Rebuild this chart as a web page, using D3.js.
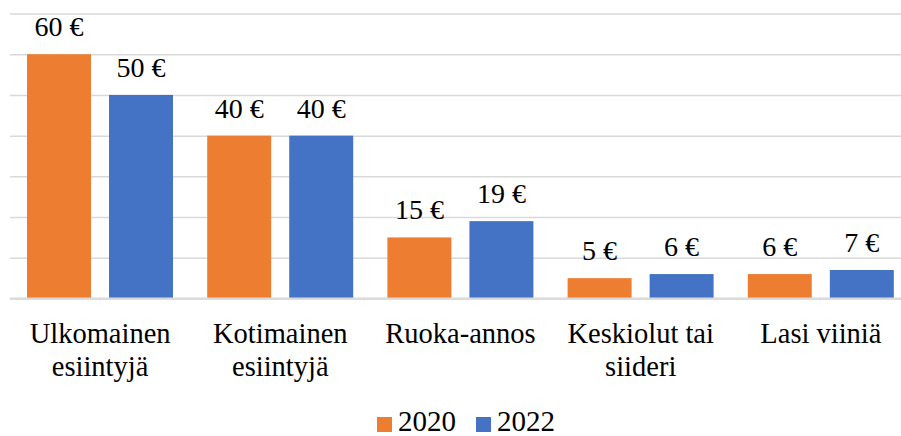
<!DOCTYPE html>
<html><head><meta charset="utf-8">
<script src="https://cdn.jsdelivr.net/npm/d3@7"></script>
</head><body style="margin:0">
<svg id="c" width="901" height="436" style="display:block;font-family:'Liberation Serif','Times New Roman',Tinos,serif"></svg>
<script>
const categories = ["Ulkomainen esiintyjä","Kotimainen esiintyjä","Ruoka-annos","Keskiolut tai siideri","Lasi viiniä"];
const categoryLines = [["Ulkomainen","esiintyjä"],["Kotimainen","esiintyjä"],["Ruoka-annos"],["Keskiolut tai","siideri"],["Lasi viiniä"]];
const seriesNames = ["2020","2022"];
const values2020 = [60,40,15,5,6];
const values2022 = [50,40,19,6,7];
const yTicks = [0,10,20,30,40,50,60,70];
const colors = ["#ED7D31","#4472C4"];
const FONT = '"Times New Roman", "Liberation Serif", Tinos, serif';

const svg = d3.select("#c");
const x0 = d3.scaleBand().domain(categories).range([10,911]);
const x1 = d3.scaleBand().domain(seriesNames).range([17,163]).paddingInner(0.22);
const y = d3.scaleLinear().domain([0,70]).range([298.5,13.5]);
const color = d3.scaleOrdinal().domain(seriesNames).range(colors);

const grid = svg.append("g").attr("transform","translate(10,0)")
  .call(d3.axisLeft(y).tickValues(yTicks).tickSize(-891).tickFormat(""));
grid.select(".domain").remove();
grid.selectAll(".tick line").attr("stroke","#d9d9d9").attr("stroke-width",1.5);

const data = categories.map((c,i)=>({cat:c, vals:[{s:"2020",v:values2020[i]},{s:"2022",v:values2022[i]}]}));
const g = svg.selectAll("g.grp").data(data).join("g").attr("class","grp")
  .attr("transform",d=>`translate(${x0(d.cat)},0)`);
g.selectAll("rect").data(d=>d.vals).join("rect")
  .attr("x",d=>x1(d.s)).attr("width",x1.bandwidth())
  .attr("y",d=>y(d.v)).attr("height",d=>y(0)-y(d.v))
  .attr("fill",d=>color(d.s));
g.selectAll("text.val").data(d=>d.vals).join("text").attr("class","val")
  .attr("x",d=>x1(d.s)+x1.bandwidth()/2).attr("y",d=>y(d.v)-18)
  .attr("text-anchor","middle").style("font-family",FONT).style("font-size","28px").style("fill","#000")
  .text(d=>d.v+" €");

svg.append("line").attr("x1",10).attr("x2",901).attr("y1",y(0)).attr("y2",y(0))
  .attr("stroke","#d9d9d9").attr("stroke-width",2);

categories.forEach((c,i)=>{
  const cx = x0(c)+x0.bandwidth()/2;
  const t = svg.append("text").attr("text-anchor","middle").style("font-family",FONT).style("font-size","28.5px").style("fill","#000")
    .attr("x",cx).attr("y",343);
  categoryLines[i].forEach((ln,j)=>t.append("tspan").attr("x",cx).attr("dy",j?33:0).style("font-family",FONT).text(ln));
});

const legX = [377,476];
seriesNames.forEach((s,i)=>{
  svg.append("rect").attr("x",legX[i]).attr("y",417).attr("width",15).attr("height",15).attr("fill",color(s));
  svg.append("text").attr("x",legX[i]+21).attr("y",431).style("font-family",FONT).style("font-size","29px").style("fill","#000").text(s);
});
</script></body></html>
